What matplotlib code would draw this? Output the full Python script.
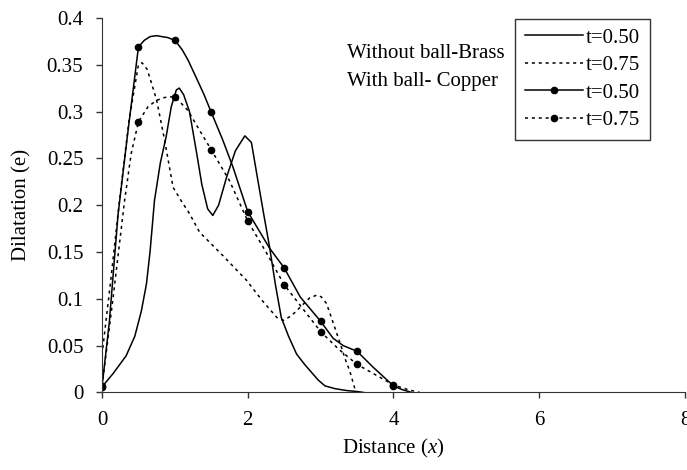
import numpy as np
import matplotlib
matplotlib.use('Agg')
import matplotlib.pyplot as plt
from matplotlib.ticker import FuncFormatter

plt.rcParams['font.family'] = ['Liberation Serif', 'DejaVu Serif']
plt.rcParams['mathtext.fontset'] = 'custom'
plt.rcParams['mathtext.rm'] = 'Liberation Serif'
plt.rcParams['mathtext.it'] = 'Liberation Serif:italic'

# Without ball - Brass, t=0.50
x_wob50 = [0, 0.15, 0.33, 0.45, 0.54, 0.61, 0.66, 0.72, 0.80, 0.88, 0.95, 1.02, 1.06,
           1.12, 1.20, 1.30, 1.37, 1.45, 1.52, 1.60, 1.71, 1.83, 1.96, 2.05, 2.14, 2.22,
           2.30, 2.38, 2.46, 2.56, 2.67, 2.78, 2.88, 2.97, 3.06, 3.20, 3.36, 3.50, 3.59]
y_wob50 = [0.006, 0.02, 0.039, 0.06, 0.087, 0.116, 0.151, 0.205, 0.245, 0.273, 0.305,
           0.323, 0.325, 0.318, 0.300, 0.255, 0.222, 0.196, 0.189, 0.20, 0.230, 0.258,
           0.274, 0.267, 0.226, 0.19, 0.155, 0.115, 0.080, 0.06, 0.041, 0.03, 0.021,
           0.013, 0.007, 0.004, 0.002, 0.001, 0]

# Without ball - Brass, t=0.75
x_wob75 = [0, 0.12, 0.24, 0.37, 0.5, 0.55, 0.62, 0.68, 0.75, 0.86, 0.975, 1.1, 1.2,
           1.34, 1.43, 1.66, 1.98, 2.2, 2.4, 2.49, 2.6, 2.72, 2.85, 2.95, 3.01, 3.08,
           3.13, 3.2, 3.27, 3.34, 3.40, 3.47, 3.5]
y_wob75 = [0.04, 0.12, 0.205, 0.29, 0.35, 0.352, 0.345, 0.33, 0.312, 0.269, 0.219,
           0.203, 0.191, 0.171, 0.164, 0.146, 0.12, 0.098, 0.080, 0.077, 0.082, 0.091,
           0.101, 0.104, 0.102, 0.095, 0.084, 0.068, 0.052, 0.035, 0.023, 0.004, 0]

# With ball - Copper, t=0.50
x_wb50 = [0, 0.1, 0.22, 0.35, 0.5, 0.58, 0.66, 0.75, 0.82, 0.9, 1.0, 1.1, 1.18, 1.3,
          1.4, 1.5, 1.66, 1.8, 2.0, 2.3, 2.5, 2.72, 3.0, 3.17, 3.31, 3.5, 3.72, 4.0,
          4.12, 4.25]
y_wb50 = [0.006, 0.075, 0.19, 0.275, 0.369, 0.376, 0.380, 0.381, 0.380, 0.379, 0.376,
          0.366, 0.355, 0.335, 0.318, 0.299, 0.269, 0.24, 0.193, 0.154, 0.133, 0.102,
          0.076, 0.058, 0.050, 0.044, 0.027, 0.007, 0.003, 0]

# With ball - Copper, t=0.75
x_wb75 = [0, 0.15, 0.31, 0.4, 0.5, 0.63, 0.75, 0.86, 1.0, 1.18, 1.3, 1.5, 1.75, 2.0,
          2.25, 2.5, 2.75, 3.0, 3.25, 3.5, 3.75, 4.0, 4.2, 4.36]
y_wb75 = [0.007, 0.10, 0.205, 0.255, 0.289, 0.305, 0.312, 0.315, 0.316, 0.301, 0.285,
          0.259, 0.226, 0.183, 0.15, 0.115, 0.09, 0.065, 0.046, 0.030, 0.019, 0.008,
          0.003, 0]

labels = ['t=0.50', 't=0.75', 't=0.50', 't=0.75']


def mark_idx(xs):
    # markers only sit on the 0.5 grid
    return [i for i, v in enumerate(xs) if abs(v * 2 - round(v * 2)) < 1e-9]


dots = (0, (2, 2.5))

fig = plt.figure(figsize=(6.87, 4.70), dpi=100)
ax = fig.add_axes([0.1485, 0.165, 0.8485, 0.797])

l1, = ax.plot(x_wob50, y_wob50, color='black', lw=1.1)
l2, = ax.plot(x_wob75, y_wob75, color='black', lw=1.1, linestyle=dots)
l3, = ax.plot(x_wb50, y_wb50, color='black', lw=1.1, marker='o', ms=4.5,
              markevery=mark_idx(x_wb50))
l4, = ax.plot(x_wb75, y_wb75, color='black', lw=1.1, linestyle=dots, marker='o',
              ms=4.5, markevery=mark_idx(x_wb75))

ax.set_xlim(0, 8)
ax.set_ylim(0, 0.4)
ax.set_xticks([0, 2, 4, 6, 8])
ax.set_yticks(np.arange(0, 0.401, 0.05))
ax.yaxis.set_major_formatter(FuncFormatter(lambda v, p: '%g' % round(v, 2)))
ax.tick_params(labelsize=15, length=4.5, width=1, color='#333333')
ax.tick_params(axis='x', pad=9)
ax.tick_params(axis='y', pad=9)
for s in ['top', 'right']:
    ax.spines[s].set_visible(False)
for s in ['left', 'bottom']:
    ax.spines[s].set_color('#333333')

ax.set_xlabel('Distance ($\\mathit{x}$)', fontsize=15, labelpad=5)
ax.set_ylabel('Dilatation (e)', fontsize=15, labelpad=11)

fig.text(0.505, 0.887, 'Without ball-Brass', fontsize=15, va='center')
fig.text(0.505, 0.826, 'With ball- Copper', fontsize=15, va='center')

leg = fig.legend([l1, l2, l3, l4], labels, loc='upper left',
                 bbox_to_anchor=(0.75, 0.96), fontsize=15, frameon=True,
                 fancybox=False, edgecolor='black', handlelength=2.8,
                 labelspacing=0.38, handletextpad=0.15, borderpad=0.45,
                 borderaxespad=0)
leg.get_frame().set_linewidth(1.0)

fig.savefig('out.png', dpi=100)
